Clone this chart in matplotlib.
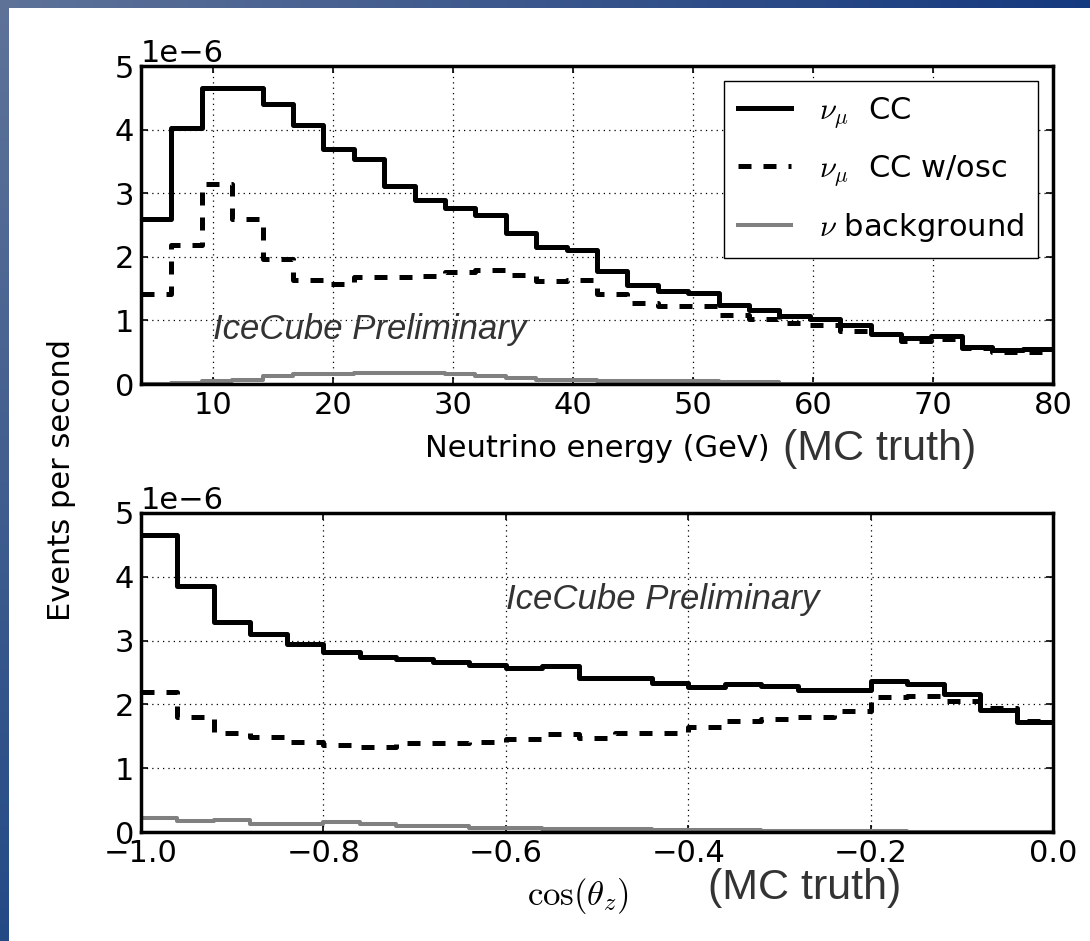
import numpy as np
import matplotlib
matplotlib.use('Agg')
import matplotlib.pyplot as plt
from matplotlib.ticker import MultipleLocator

# Histogramas de eventos por segundo (en unidades de 1e-6)
energia_bordes = np.linspace(4, 80, 31)      # 30 bins de energia (GeV)
coszen_bordes = np.linspace(-1.0, 0.0, 26)   # 25 bins en cos(theta_z)

numu_cc_E = [2.60, 4.03, 4.65, 4.65, 4.40, 4.08, 3.69, 3.53, 3.11, 2.90,
             2.76, 2.65, 2.38, 2.16, 2.10, 1.77, 1.56, 1.47, 1.43, 1.25,
             1.17, 1.07, 1.02, 0.92, 0.78, 0.72, 0.75, 0.58, 0.53, 0.55]
numu_osc_E = [1.41, 2.18, 3.14, 2.60, 1.96, 1.64, 1.58, 1.69, 1.69, 1.70,
              1.76, 1.79, 1.72, 1.62, 1.64, 1.42, 1.27, 1.22, 1.23, 1.08,
              1.02, 0.96, 0.92, 0.83, 0.79, 0.68, 0.70, 0.57, 0.50, 0.50]
fondo_E = [0.00, 0.01, 0.04, 0.07, 0.12, 0.16, 0.15, 0.18, 0.18, 0.17,
           0.15, 0.12, 0.09, 0.07, 0.06, 0.05, 0.04, 0.04, 0.04, 0.03,
           0.03, 0.00, 0.00, 0.00, 0.00, 0.00, 0.00, 0.00, 0.00, 0.00]

numu_cc_z = [4.66, 3.86, 3.29, 3.11, 2.94, 2.82, 2.75, 2.71, 2.66, 2.61,
             2.57, 2.60, 2.41, 2.42, 2.34, 2.28, 2.32, 2.29, 2.23, 2.23,
             2.36, 2.32, 2.17, 1.92, 1.72]
numu_osc_z = [2.19, 1.81, 1.55, 1.49, 1.41, 1.36, 1.34, 1.39, 1.39, 1.41,
              1.45, 1.54, 1.47, 1.55, 1.55, 1.65, 1.74, 1.77, 1.81, 1.89,
              2.12, 2.13, 2.06, 1.94, 1.74]
fondo_z = [0.22, 0.17, 0.19, 0.13, 0.13, 0.15, 0.13, 0.10, 0.10, 0.07,
           0.06, 0.05, 0.05, 0.05, 0.03, 0.03, 0.03, 0.02, 0.02, 0.02,
           0.02, 0.00, 0.00, 0.00, 0.00]

etiquetas = [r'$\nu_\mu$  CC', r'$\nu_\mu$  CC w/osc', r'$\nu$ background']

plt.rcParams['font.family'] = ['DejaVu Sans']
plt.rcParams['font.size'] = 22
plt.rcParams['mathtext.fontset'] = 'cm'
plt.rcParams['axes.linewidth'] = 2.5
for eje in ('xtick', 'ytick'):
    plt.rcParams[eje + '.direction'] = 'in'
    plt.rcParams[eje + '.major.size'] = 5
    plt.rcParams[eje + '.major.width'] = 1.2
    plt.rcParams[eje + '.major.pad'] = 5
    plt.rcParams[eje + '.labelsize'] = 22
plt.rcParams['xtick.top'] = True
plt.rcParams['ytick.right'] = True

W, H = 1090, 941
fig = plt.figure(figsize=(W / 100, H / 100), dpi=100)

# Fondo de la diapositiva: marco azul arriba y a la izquierda
fondo = np.ones((H, W, 3))
c0 = np.array([95, 115, 153]) / 255
c1 = np.array([21, 57, 127]) / 255
c2 = np.array([36, 74, 134]) / 255
t = np.linspace(0, 1, W)[:, None]
fondo[:8, :, :] = (c0 * (1 - t) + c1 * t)[None, :, :]
s = np.linspace(0, 1, H)[:, None]
fondo[:, :9, :] = (c0 * (1 - s) + c2 * s)[:, None, :]
ax_bg = fig.add_axes([0, 0, 1, 1], zorder=-10)
ax_bg.imshow(fondo, aspect='auto', interpolation='nearest')
ax_bg.axis('off')


def dibujar(ax, bordes, cc, osc, bg):
    def escalon(v):
        v = np.asarray(v) * 1e-6
        return np.r_[v, v[-1]]
    ax.plot(bordes, escalon(cc), color='k', lw=3.6, drawstyle='steps-post',
            label=etiquetas[0])
    ax.plot(bordes, escalon(osc), color='k', lw=3.6, drawstyle='steps-post',
            linestyle=(0, (2.6, 2.4)), label=etiquetas[1])
    ax.plot(bordes, escalon(bg), color='gray', lw=2.9, drawstyle='steps-post',
            label=etiquetas[2])
    ax.set_xlim(bordes[0], bordes[-1])
    ax.set_ylim(0, 5e-6)
    ax.yaxis.set_major_locator(MultipleLocator(1e-6))
    ax.grid(True, color='k', lw=0.9, linestyle=(0, (1, 3.3)))


# Espectro en energia
ax1 = fig.add_axes([141 / W, 1 - 384 / H, 912 / W, 318 / H])
dibujar(ax1, energia_bordes, numu_cc_E, numu_osc_E, fondo_E)
ax1.set_xlabel('Neutrino energy (GeV)', labelpad=10)
ax1.text(10, 0.7e-6, 'IceCube Preliminary', style='italic',
         family='Liberation Sans', fontsize=25, color='#333333', va='baseline')
leg = ax1.legend(loc='upper right', fancybox=False, framealpha=1,
                 edgecolor='k', handlelength=1.75, handletextpad=0.9,
                 labelspacing=0.75, borderpad=0.45, fontsize=22)
leg.get_frame().set_linewidth(1.0)

# Distribucion en angulo cenital
ax2 = fig.add_axes([141 / W, 1 - 832 / H, 912 / W, 319 / H])
dibujar(ax2, coszen_bordes, numu_cc_z, numu_osc_z, fondo_z)
ax2.set_xlabel(r'$\cos(\theta_z)$', fontsize=25, labelpad=6)
ax2.xaxis.label.set_x(0.479)
ax2.text(-0.6, 3.5e-6, 'IceCube Preliminary', style='italic',
         family='Liberation Sans', fontsize=25, color='#333333', va='baseline')

fig.text(62 / W, 1 - 480 / H, 'Events per second', rotation=90,
         ha='center', va='center', fontsize=22)
fig.text(783 / W, 1 - 449 / H, '(MC truth)', family='Liberation Sans',
         fontsize=31, color='#333333', va='center')
fig.text(708 / W, 1 - 888 / H, '(MC truth)', family='Liberation Sans',
         fontsize=31, color='#333333', va='center')

fig.savefig('out.png', dpi=100)
